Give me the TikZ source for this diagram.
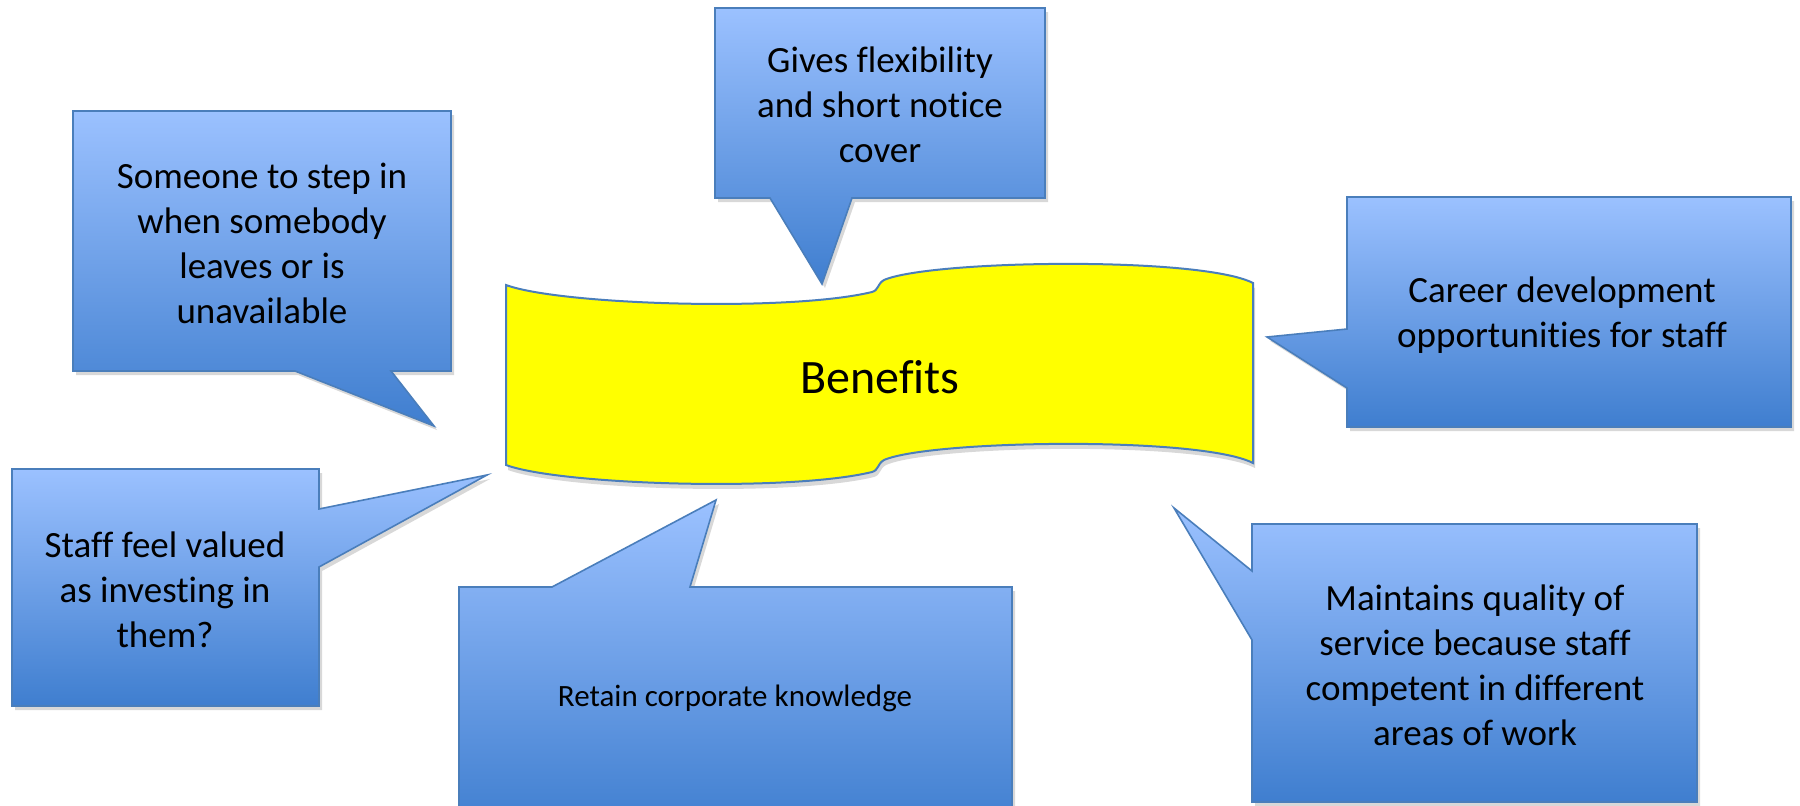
\documentclass[tikz,border=0pt]{standalone}
\usepackage{fontspec}
\setmainfont{Carlito}[Ligatures=CommonOff]
\usetikzlibrary{shadows}
\definecolor{ctop}{HTML}{9BC1FF}
\definecolor{cbot}{HTML}{3F7ECF}
\definecolor{cline}{HTML}{4A7EBB}
\definecolor{wavefill}{HTML}{FFFF00}
\tikzset{
  callout/.style={top color=ctop, bottom color=cbot, draw=cline, line width=1.6pt, line join=miter,
    drop shadow={shadow xshift=3pt, shadow yshift=-4pt, opacity=0.25, fill=black!60}},
  wavebox/.style={fill=wavefill, draw=cline, line width=2pt,
    drop shadow={shadow xshift=2pt, shadow yshift=-5pt, opacity=0.25, fill=black!60}},
  txt/.style={align=center, font=\fontsize{37}{45}\selectfont, inner sep=0pt, text=black},
  smalltxt/.style={align=center, font=\fontsize{31}{38}\selectfont, inner sep=0pt, text=black},
  bigtxt/.style={align=center, font=\fontsize{48}{58}\selectfont, inner sep=0pt, text=black},
}
\begin{document}
\begin{tikzpicture}[x=1pt,y=-1pt]
\useasboundingbox (0,0) rectangle (1800,806);
\fill[white] (0,0) rectangle (1800,806);

% central wave
\path[wavebox] (506,285) .. controls (560,305) and (790,312) .. (872,292)
  .. controls (879,290) and (877,284) .. (884,280)
  .. controls (930,260) and (1200,256) .. (1253,283)
  -- (1253,463)
  .. controls (1200,436) and (930,440) .. (884,460)
  .. controls (877,464) and (879,470) .. (872,472)
  .. controls (790,492) and (560,485) .. (506,465) -- cycle;
\node[bigtxt] (benefits) at (880,377) {Benefits};

% Gives flexibility
\path[callout] (715,8) -- (1045,8) -- (1045,198) -- (852,198) -- (822,284) -- (770,198) -- (715,198) -- cycle;
\node[txt] (gives) at (880,105) {Gives flexibility\\and short notice\\cover};

% Someone to step in
\path[callout] (73,111) -- (451,111) -- (451,371) -- (391,371) -- (434,426) -- (295,371) -- (73,371) -- cycle;
\node[txt] (someone) at (262,243) {Someone to step in\\when somebody\\leaves or is\\unavailable};

% Career development
\path[callout] (1347,197) -- (1791,197) -- (1791,427) -- (1347,427) -- (1347,388) -- (1267,337) -- (1347,329) -- cycle;
\node[txt] (career) at (1562,315) {Career development\\opportunities for staff};

% Staff feel valued
\path[callout] (12,469) -- (319,469) -- (319,509) -- (487,475) -- (319,567) -- (319,706) -- (12,706) -- cycle;
\node[txt] (staff) at (165,590) {Staff feel valued\\as investing in\\them?};

% Retain corporate knowledge
\path[callout] (459,587) -- (552,587) -- (716,500) -- (690,587) -- (1012,587) -- (1012,830) -- (459,830) -- cycle;
\node[smalltxt] (retain) at (735,698) {Retain corporate knowledge};

% Maintains quality
\path[callout] (1252,524) -- (1697,524) -- (1697,802) -- (1252,802) -- (1252,640) -- (1174,508) -- (1252,571) -- cycle;
\node[txt] (maintains) at (1475,665) {Maintains quality of\\service because staff\\competent in different\\areas of work};
\end{tikzpicture}
\end{document}
